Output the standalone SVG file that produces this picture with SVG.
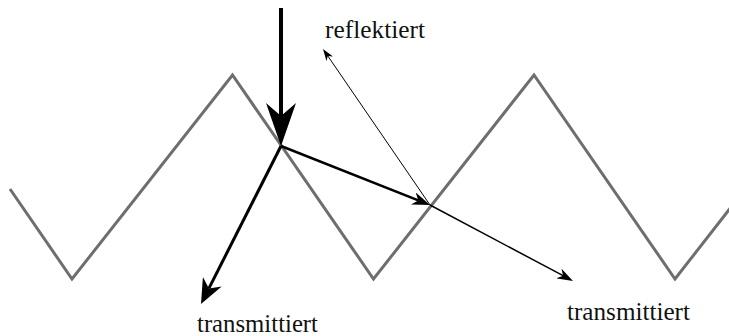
<svg xmlns="http://www.w3.org/2000/svg" width="729" height="336" viewBox="0 0 729 336">
  <style>
    .surface { fill: none; stroke: #6e6e6e; stroke-width: 3; stroke-linejoin: miter; }
    .ray { fill: none; stroke: #000; stroke-linecap: butt; }
    .lbl { font-family: 'Liberation Serif', 'Times New Roman', serif; font-size: 25px; fill: #111; }
    .head { fill: #000; }
  </style>
  <defs>
    <marker id="ah1" viewBox="0 0 10 10" refX="3" refY="5" markerUnits="userSpaceOnUse" markerWidth="43" markerHeight="30" orient="auto" preserveAspectRatio="none"><path class="head" d="M0,0 L10,5 L0,10 L3,5 z"/></marker>
    <marker id="ah2" viewBox="0 0 10 10" refX="3" refY="5" markerUnits="userSpaceOnUse" markerWidth="25" markerHeight="21" orient="auto" preserveAspectRatio="none"><path class="head" d="M0,0 L10,5 L0,10 L3,5 z"/></marker>
    <marker id="ah3" viewBox="0 0 10 10" refX="3" refY="5" markerUnits="userSpaceOnUse" markerWidth="18" markerHeight="13" orient="auto" preserveAspectRatio="none"><path class="head" d="M0,0 L10,5 L0,10 L3,5 z"/></marker>
    <marker id="ah4" viewBox="0 0 10 10" refX="3" refY="5" markerUnits="userSpaceOnUse" markerWidth="16" markerHeight="11" orient="auto" preserveAspectRatio="none"><path class="head" d="M0,0 L10,5 L0,10 L3,5 z"/></marker>
    <marker id="ah5" viewBox="0 0 10 10" refX="3" refY="5" markerUnits="userSpaceOnUse" markerWidth="12" markerHeight="8" orient="auto" preserveAspectRatio="none"><path class="head" d="M0,0 L10,5 L0,10 L3,5 z"/></marker>
  </defs>
  <g id="surface">
    <polyline class="surface" points="10,189 72,279 232.5,75 373.5,279 534,75 675,279 760,170"/>
  </g>
  <g id="connectors">
    <line id="incident" class="ray" x1="281" y1="8" x2="281" y2="116" stroke-width="4" marker-end="url(#ah1)"/>
    <line id="transmitted1" class="ray" x1="281" y1="146" x2="208.9" y2="288.4" stroke-width="3" marker-end="url(#ah2)"/>
    <line id="reflected-inner" class="ray" x1="281" y1="146" x2="418.3" y2="200.4" stroke-width="2.5" marker-end="url(#ah3)"/>
    <line id="transmitted2" class="ray" x1="430" y1="205" x2="563.1" y2="275.7" stroke-width="1.5" marker-end="url(#ah4)"/>
    <line id="reflected" class="ray" x1="430" y1="205" x2="327.75" y2="55.9" stroke-width="1" marker-end="url(#ah5)"/>
  </g>
  <g id="label-reflektiert">
    <text class="lbl" x="325" y="38" textLength="100" lengthAdjust="spacingAndGlyphs">reflektiert</text>
  </g>
  <g id="label-transmittiert-1">
    <text class="lbl" x="197" y="332" textLength="121" lengthAdjust="spacingAndGlyphs">transmittiert</text>
  </g>
  <g id="label-transmittiert-2">
    <text class="lbl" x="567" y="320" textLength="123" lengthAdjust="spacingAndGlyphs">transmittiert</text>
  </g>
</svg>
